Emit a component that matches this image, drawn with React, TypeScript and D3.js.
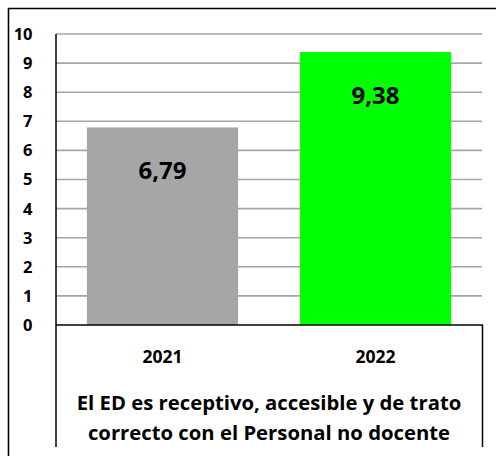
import React from "react";
import * as d3 from "d3";

const categories = ["2021", "2022"];
const values = [6.79, 9.38];
const valueLabels = ["6,79", "9,38"];
const barColors = ["#a6a6a6", "#00ff00"];
const yTicks = [0, 1, 2, 3, 4, 5, 6, 7, 8, 9, 10];
const titleLines = [
  "El ED es receptivo, accesible y de trato",
  "correcto con el Personal no docente",
];

const FONT = "'Open Sans', Lato, sans-serif";

export default function App() {
  const W = 496;
  const H = 456;
  const left = 56;
  const right = 482;
  const y = d3.scaleLinear().domain([0, 10]).range([325, 34]);
  const x = d3
    .scaleBand<string>()
    .domain(categories)
    .range([left, right])
    .paddingInner(0.29)
    .paddingOuter(0.145);
  const y0 = y(0);
  const boxBottom = 447;
  const mid = (left + right) / 2;

  return (
    <svg
      width={W}
      height={H}
      style={{ position: "absolute", left: 0, top: 0, background: "#fff" }}
      fontFamily={FONT}
    >
      <rect x={0} y={0} width={W} height={H} fill="#fff" />
      {/* outer frame */}
      <line x1={8} x2={W + 2} y1={8.5} y2={8.5} stroke="#000" strokeWidth={1.6} />
      <line x1={8.5} x2={8.5} y1={8} y2={H + 2} stroke="#000" strokeWidth={1.6} />
      {/* gridlines */}
      {yTicks
        .filter((t) => t > 0)
        .map((t) => (
          <line
            key={t}
            x1={left}
            x2={right}
            y1={y(t)}
            y2={y(t)}
            stroke="#a6a6a6"
            strokeWidth={1.6}
          />
        ))}
      {/* bars */}
      {categories.map((c, i) => (
        <rect
          key={c}
          x={x(c)}
          y={y(values[i])}
          width={x.bandwidth()}
          height={y0 - y(values[i])}
          fill={barColors[i]}
        />
      ))}
      {/* value labels */}
      {categories.map((c, i) => (
        <text
          key={c}
          x={(x(c) as number) + x.bandwidth() / 2}
          y={y(values[i]) + 52}
          textAnchor="middle"
          fontSize={24}
          fontWeight="bold"
          fill="#000"
        >
          {valueLabels[i]}
        </text>
      ))}
      {/* axes */}
      <line x1={left} x2={left} y1={y(10)} y2={boxBottom} stroke="#000" strokeWidth={1.5} />
      <line x1={left} x2={right + 1} y1={y0} y2={y0} stroke="#000" strokeWidth={1.5} />
      <line x1={right + 0.5} x2={right + 0.5} y1={y0} y2={boxBottom} stroke="#000" strokeWidth={1.5} />
      {/* y tick labels */}
      {yTicks.map((t) => (
        <text
          key={t}
          x={32.5}
          y={y(t)}
          dy="0.36em"
          textAnchor="end"
          fontSize={16.5}
          fontWeight="bold"
          fill="#000"
        >
          {t}
        </text>
      ))}
      {/* category labels */}
      {categories.map((c) => (
        <text
          key={c}
          x={(x(c) as number) + x.bandwidth() / 2}
          y={363}
          textAnchor="middle"
          fontSize={17.5}
          fontWeight="bold"
          fill="#000"
        >
          {c}
        </text>
      ))}
      {/* title */}
      {titleLines.map((l, i) => (
        <text
          key={i}
          x={mid}
          y={410 + i * 30}
          textAnchor="middle"
          fontSize={20.3}
          fontWeight="bold"
          fill="#000"
        >
          {l}
        </text>
      ))}
    </svg>
  );
}
